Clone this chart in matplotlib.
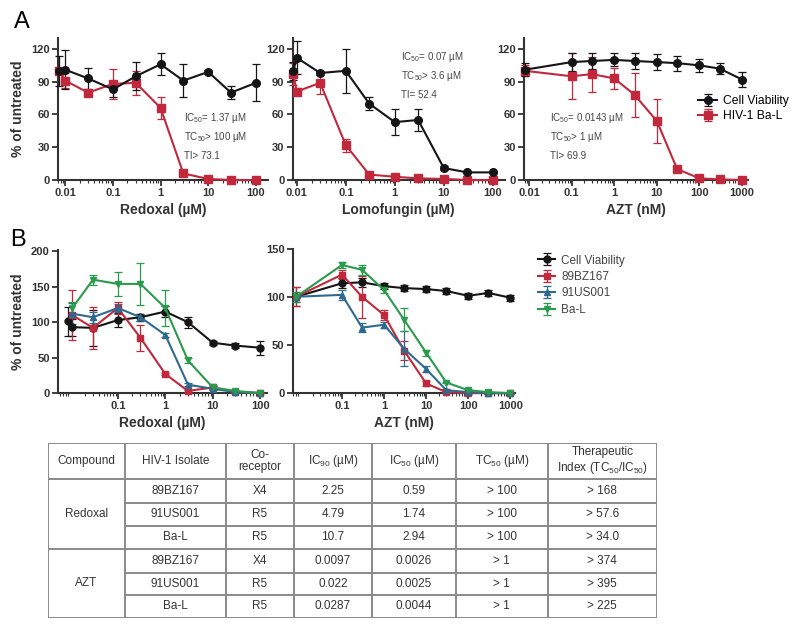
import matplotlib
matplotlib.use("Agg")
import matplotlib.pyplot as plt
import numpy as np
from matplotlib.ticker import FixedLocator, LogLocator, NullFormatter

plt.rcParams["font.family"] = ["Liberation Sans", "DejaVu Sans"]
plt.rcParams["mathtext.fontset"] = "custom"
plt.rcParams["mathtext.rm"] = "Liberation Sans"
plt.rcParams["mathtext.default"] = "regular"

BLACK = "#151515"
RED = "#c1283c"
BLUE = "#2f6a8e"
GREEN = "#2a9a4c"

# ---- panel A data ----
a_x_um = [0.0072, 0.01, 0.03, 0.1, 0.3, 1, 3, 10, 30, 100]
a1_cell = [100, 101, 93, 83, 95, 106, 91, 99, 80, 89]
a1_cell_err = [14, 18, 10, 7, 13, 10, 15, 2, 6, 17]
a1_hiv = [100, 91, 80, 88, 89, 66, 6, 1, 0, 0]
a1_hiv_err = [0, 7, 2, 14, 11, 10, 1, 1, 0.5, 0.5]

a2_x_um = [0.0085, 0.01, 0.03, 0.1, 0.3, 1, 3, 10, 30, 100]
a2_cell = [100, 112, 98, 100, 70, 53, 55, 11, 7, 7]
a2_cell_err = [8, 15, 2, 20, 6, 12, 10, 2, 1, 1]
a2_hiv = [97, 81, 89, 32, 5, 3, 1.5, 1, 0, 0]
a2_hiv_err = [10, 3, 10, 6, 1, 1, 1, 1, 0.5, 0.5]

a3_x_nm = [0.008, 0.1, 0.3, 1, 3, 10, 30, 100, 300, 1000]
a3_cell = [101, 108, 109, 110, 109, 108, 107, 105, 102, 92]
a3_cell_err = [6, 8, 7, 6, 7, 7, 7, 6, 5, 7]
a3_hiv = [100, 95, 97, 93, 78, 54, 10, 1.5, 0.6, 0]
a3_hiv_err = [5, 21, 16, 10, 20, 20, 2, 1, 0.5, 0.5]

# ---- panel B data ----
b1_x_cell = [0.0088, 0.011, 0.03, 0.1, 0.3, 1, 3, 10, 30, 100]
b1_cell = [101, 93, 92, 103, 107, 115, 100, 71, 67, 64]
b1_cell_err = [20, 12, 25, 10, 5, 8, 8, 3, 3, 10]
b1_x = [0.011, 0.03, 0.1, 0.3, 1, 3, 10, 30, 100]
b1_bz = [110, 92, 120, 78, 27, 3, 8, 2, 0]
b1_bz_err = [35, 30, 8, 18, 2, 1, 2, 1, 0.5]
b1_us = [112, 107, 120, 107, 82, 12, 6, 1.5, 0]
b1_us_err = [15, 8, 5, 5, 3, 2, 1, 1, 0.5]
b1_bal = [120, 160, 154, 154, 120, 46, 8, 3, 0]
b1_bal_err = [8, 7, 17, 30, 25, 4, 3, 1, 0.5]

b2_x = [0.0082, 0.1, 0.3, 1, 3, 10, 30, 100, 300, 1000]
b2_cell = [100, 114, 115, 111, 109, 108, 106, 101, 104, 99]
b2_cell_err = [10, 5, 5, 3, 3, 3, 3, 3, 3, 3]
b2_bz = [100, 123, 100, 81, 44, 10, 1, 0, 0, 0]
b2_bz_err = [10, 5, 22, 5, 10, 3, 1, 1, 0.5, 0.5]
b2_us = [100, 102, 68, 71, 46, 25, 3, 1, 0, 0]
b2_us_err = [5, 5, 5, 3, 18, 3, 1, 1, 0.5, 0.5]
b2_bal = [100, 133, 128, 107, 76, 42, 11, 3, 1, 0]
b2_bal_err = [5, 3, 5, 3, 12, 3, 1, 1, 0.5, 0.5]

# ---- table data ----
tbl_header = ["Compound", "HIV-1 Isolate", "Co-\nreceptor", "IC$_{90}$ (µM)",
              "IC$_{50}$ (µM)", "TC$_{50}$ (µM)",
              "Therapeutic\nIndex (TC$_{50}$/IC$_{50}$)"]
tbl_compounds = ["Redoxal", "AZT"]
tbl_isolate = ["89BZ167", "91US001", "Ba-L", "89BZ167", "91US001", "Ba-L"]
tbl_corec = ["X4", "R5", "R5", "X4", "R5", "R5"]
tbl_ic90 = ["2.25", "4.79", "10.7", "0.0097", "0.022", "0.0287"]
tbl_ic50 = ["0.59", "1.74", "2.94", "0.0026", "0.0025", "0.0044"]
tbl_tc50 = ["> 100", "> 100", "> 100", "> 1", "> 1", "> 1"]
tbl_ti = ["> 168", "> 57.6", "> 34.0", "> 374", "> 395", "> 225"]


def series(ax, x, y, err, color, marker, label, ms=5.5):
    ax.errorbar(x, y, yerr=err, color=color, marker=marker, ms=ms, lw=1.5,
                elinewidth=0.9, capsize=3, capthick=0.9, label=label,
                clip_on=False, zorder=3, ecolor=color)


def style(ax, xlim, ylim, xticks, xlabels, yticks, xlabel, ylabel=None):
    ax.set_xscale("log")
    ax.set_xlim(*xlim)
    ax.set_ylim(*ylim)
    ax.xaxis.set_major_locator(FixedLocator(xticks))
    ax.set_xticklabels(xlabels)
    ax.xaxis.set_minor_locator(LogLocator(base=10, subs=np.arange(2, 10)))
    ax.xaxis.set_minor_formatter(NullFormatter())
    ax.set_yticks(yticks)
    for s in ["top", "right"]:
        ax.spines[s].set_visible(False)
    for s in ["left", "bottom"]:
        ax.spines[s].set_linewidth(1.5)
        ax.spines[s].set_color("#333333")
    ax.tick_params(which="major", length=4, width=1.3, color="#333333",
                   labelsize=8, pad=2)
    ax.tick_params(which="minor", length=2.5, width=0.8, color="#333333")
    for lab in ax.get_xticklabels() + ax.get_yticklabels():
        lab.set_fontweight("bold")
        lab.set_color("#333333")
    ax.set_xlabel(xlabel, fontsize=10, fontweight="bold", color="#333333", labelpad=3)
    if ylabel:
        ax.set_ylabel(ylabel, fontsize=10, fontweight="bold", color="#333333", labelpad=4)


def note(ax, x, y, lines):
    for i, t in enumerate(lines):
        ax.text(x, y - i * 0.135, t, transform=ax.transAxes, fontsize=7,
                color="#444444", va="center", ha="left")


fig = plt.figure(figsize=(8, 6.31), dpi=100)

# panel A
ax1 = fig.add_axes([0.0725, 0.7147, 0.2625, 0.225])
series(ax1, a_x_um, a1_hiv, a1_hiv_err, RED, "s", "HIV-1 Ba-L")
series(ax1, a_x_um, a1_cell, a1_cell_err, BLACK, "o", "Cell Viability")
style(ax1, (0.007, 180), (0, 130), [0.01, 0.1, 1, 10, 100],
      ["0.01", "0.1", "1", "10", "100"], [0, 30, 60, 90, 120],
      "Redoxal (µM)", "% of untreated")
note(ax1, 0.6, 0.44, ["IC$_{50}$= 1.37 µM", "TC$_{50}$> 100 µM", "TI> 73.1"])

ax2 = fig.add_axes([0.366, 0.7147, 0.265, 0.225])
series(ax2, a2_x_um, a2_hiv, a2_hiv_err, RED, "s", "HIV-1 Ba-L")
series(ax2, a2_x_um, a2_cell, a2_cell_err, BLACK, "o", "Cell Viability")
style(ax2, (0.0083, 176), (0, 130), [0.01, 0.1, 1, 10, 100],
      ["0.01", "0.1", "1", "10", "100"], [0, 30, 60, 90, 120],
      "Lomofungin (µM)")
note(ax2, 0.51, 0.87, ["IC$_{50}$= 0.07 µM", "TC$_{50}$> 3.6 µM", "TI= 52.4"])

ax3 = fig.add_axes([0.655, 0.7147, 0.28, 0.225])
series(ax3, a3_x_nm, a3_hiv, a3_hiv_err, RED, "s", "HIV-1 Ba-L")
series(ax3, a3_x_nm, a3_cell, a3_cell_err, BLACK, "o", "Cell Viability")
style(ax3, (0.0076, 1380), (0, 130), [0.01, 0.1, 1, 10, 100, 1000],
      ["0.01", "0.1", "1", "10", "100", "1000"], [0, 30, 60, 90, 120],
      "AZT (nM)")
note(ax3, 0.116, 0.44, ["IC$_{50}$= 0.0143 µM", "TC$_{50}$> 1 µM", "TI> 69.9"])
h, l = ax3.get_legend_handles_labels()
ax3.legend(h[::-1], l[::-1], loc="upper left", bbox_to_anchor=(0.75, 0.64),
           frameon=False, fontsize=8.7, handlelength=1.6, handletextpad=0.5,
           labelspacing=0.25, borderpad=0)

# panel B
bx1 = fig.add_axes([0.0725, 0.377, 0.2615, 0.227])
series(bx1, b1_x_cell, b1_cell, b1_cell_err, BLACK, "o", "Cell Viability", 5)
series(bx1, b1_x, b1_bz, b1_bz_err, RED, "s", "89BZ167", 5)
series(bx1, b1_x, b1_us, b1_us_err, BLUE, "^", "91US001", 5)
series(bx1, b1_x, b1_bal, b1_bal_err, GREEN, "v", "Ba-L", 5)
style(bx1, (0.0055, 140), (0, 202), [0.1, 1, 10, 100],
      ["0.1", "1", "10", "100"], [0, 50, 100, 150, 200],
      "Redoxal (µM)", "% of untreated")

bx2 = fig.add_axes([0.366, 0.377, 0.278, 0.229])
series(bx2, b2_x, b2_cell, b2_cell_err, BLACK, "o", "Cell Viability", 5)
series(bx2, b2_x, b2_bz, b2_bz_err, RED, "s", "89BZ167", 5)
series(bx2, b2_x, b2_us, b2_us_err, BLUE, "^", "91US001", 5)
series(bx2, b2_x, b2_bal, b2_bal_err, GREEN, "v", "Ba-L", 5)
style(bx2, (0.0068, 1300), (0, 150), [0.1, 1, 10, 100, 1000],
      ["0.1", "1", "10", "100", "1000"], [0, 50, 100, 150], "AZT (nM)")
leg = bx2.legend(loc="upper left", bbox_to_anchor=(1.075, 1.0), frameon=False,
                 fontsize=8.5, handlelength=1.5, handletextpad=0.5,
                 labelspacing=0.38, borderpad=0)
for t in leg.get_texts():
    t.set_color("#444444")

fig.text(0.017, 0.965, "A", fontsize=17, va="center", ha="left")
fig.text(0.013, 0.62, "B", fontsize=17, va="center", ha="left")

# table drawn on its own axes (pixel-like coordinates)
tax = fig.add_axes([0.06, 0.0206, 0.761, 0.2774])
col_w = [77, 101, 68, 78, 84, 92, 109]
row_h = [36, 24, 23, 23, 24, 22, 23]
col_x = np.concatenate([[0], np.cumsum(col_w)])
row_y = np.concatenate([[0], np.cumsum(row_h)])
W, H = col_x[-1], row_y[-1]
tax.set_xlim(0, W)
tax.set_ylim(H, 0)
tax.axis("off")
lc = "#8a8a8a"
lw = 1.4
for cx in col_x:
    tax.plot([cx, cx], [0, H], color=lc, lw=lw)
tax.plot([0, W], [0, 0], color=lc, lw=lw)
tax.plot([0, W], [H, H], color=lc, lw=lw)
for i in range(1, len(row_y) - 1):
    x0 = 0 if i in (1, 4) else col_x[1]
    tax.plot([x0, W], [row_y[i], row_y[i]], color=lc, lw=lw)

fs = 8.5
tc = "#333333"
for j, txt in enumerate(tbl_header):
    tax.text((col_x[j] + col_x[j + 1]) / 2, row_h[0] / 2, txt, ha="center",
             va="center", fontsize=fs, color=tc, linespacing=1.1)
for k, comp in enumerate(tbl_compounds):
    yc = (row_y[1 + 3 * k] + row_y[4 + 3 * k]) / 2
    tax.text(col_x[1] / 2, yc, comp, ha="center", va="center", fontsize=fs, color=tc)
cols = [tbl_isolate, tbl_corec, tbl_ic90, tbl_ic50, tbl_tc50, tbl_ti]
for j, col in enumerate(cols, start=1):
    for i, val in enumerate(col):
        yc = (row_y[i + 1] + row_y[i + 2]) / 2
        tax.text((col_x[j] + col_x[j + 1]) / 2, yc, val, ha="center",
                 va="center", fontsize=fs, color=tc)

fig.savefig("out.png", dpi=100)
